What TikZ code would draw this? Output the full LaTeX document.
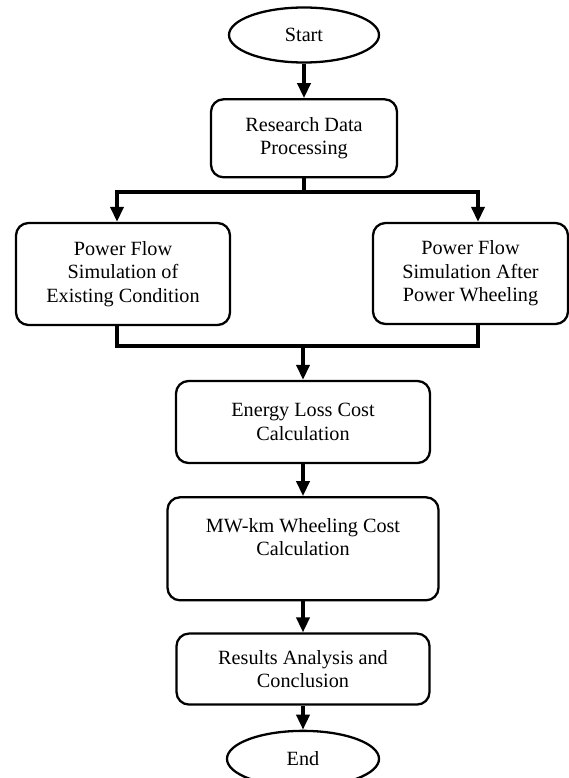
\documentclass[tikz,border=0pt]{standalone}
\usepackage{fontspec}
\setmainfont{Liberation Serif}
\usetikzlibrary{positioning, arrows.meta, shapes.geometric}

\begin{document}
\begin{tikzpicture}[auto, node distance=0.65cm, >={Triangle[length=3mm, width=2.6mm]},
	font=\fontsize{11.5}{13.3}\selectfont,
	box/.style={draw, rectangle, rounded corners=0.25cm, line width=1.3pt, align=center},
	terminal/.style={draw, ellipse, line width=1.3pt, minimum width=3cm, minimum height=1.1cm},
	flow/.style={line width=2pt}]
	\useasboundingbox (0,0) rectangle (11.38,-15.56);
	
	% Define nodes
	\node [terminal] (start) at (6.08,-0.7) {Start};
	\node [box, below=0.69cm of start, minimum width=3.72cm, minimum height=1.56cm] (research) {Research Data \\ Processing};
	\node [box, minimum width=4.28cm, minimum height=2.04cm] (existing) at (2.46,-5.48) {Power Flow \\ Simulation of \\ Existing Condition};
	\node [box, minimum width=3.9cm, minimum height=2.02cm] (wheeling) at (9.41,-5.47) {Power Flow \\ Simulation After \\ Power Wheeling};
	\node [box, minimum width=5.08cm, minimum height=1.64cm] (energy) at (6.06,-8.44) {Energy Loss Cost \\ Calculation};
	\node [box, below=0.64cm of energy, minimum width=5.42cm, minimum height=2.06cm] (mwkm) {MW-km Wheeling Cost \\ Calculation \\ \mbox{}};
	\node [box, below=0.62cm of mwkm, minimum width=5.06cm, minimum height=1.42cm] (results) {Results Analysis and \\ Conclusion};
	\node [terminal, below=0.48cm of results, minimum width=3.04cm, minimum height=1.12cm] (end) {End};
	
	% Branch and join points
	\coordinate (splitL) at (2.34,-3.84);
	\coordinate (splitR) at (9.56,-3.84);
	\coordinate (joinL) at (2.34,-6.92);
	\coordinate (joinR) at (9.56,-6.92);
	
	% Arrows between blocks
	\draw[->, flow] (start) -- (research);
	\draw[->, flow] (research.south) |- (splitL) -- (splitL |- existing.north);
	\draw[->, flow] (research.south |- splitR) -- (splitR) -- (splitR |- wheeling.north);
	\draw[flow] (joinL |- existing.south) -- (joinL) -- (joinR) -- (joinR |- wheeling.south);
	\draw[->, flow] (energy.north |- joinL) -- (energy);
	\draw[->, flow] (energy) -- (mwkm);
	\draw[->, flow] (mwkm) -- (results);
	\draw[->, flow] (results) -- (end);
\end{tikzpicture}
\end{document}
